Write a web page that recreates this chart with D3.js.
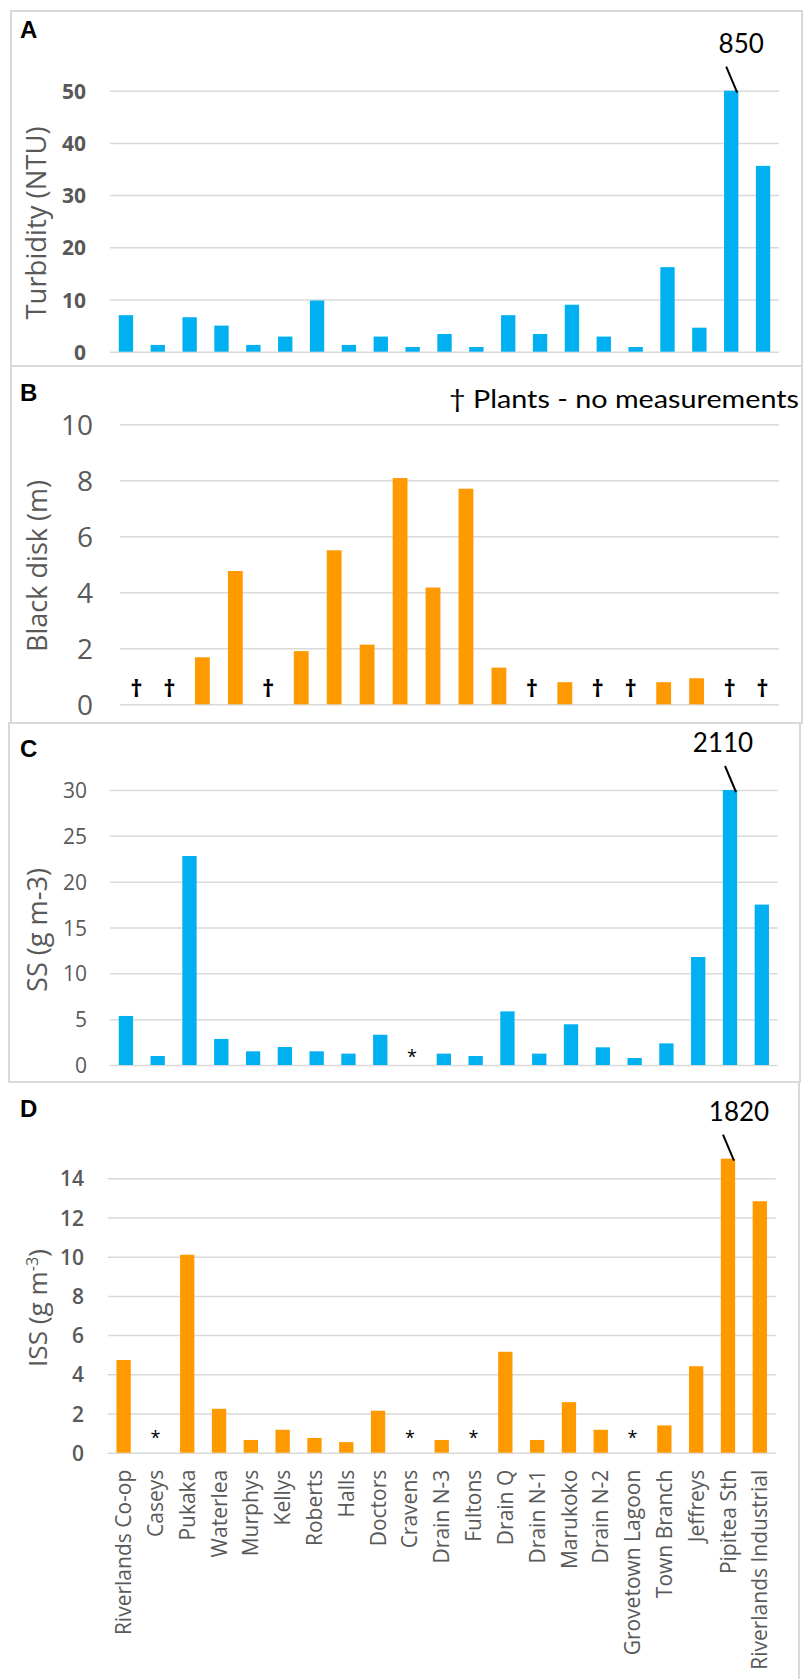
<!DOCTYPE html>
<head>
  <meta charset="utf-8">
  <script src="https://d3js.org/d3.v7.min.js"></script>
  <style>
    body { margin:0; background:#fff; }
    text { font-family: "Open Sans", sans-serif; }
    .frame { fill:none; stroke:#d9d9d9; stroke-width:2; }
    .grid line { stroke:#d9d9d9; stroke-width:1.5; }
    .grid path, .ticks path { display:none; }
    .ticks text { fill:#595959; }
  </style>
</head>

<body>
  <script>
  // ---------- data ---------------
    var sites = ["Riverlands Co-op", "Caseys", "Pukaka", "Waterlea", "Murphys", "Kellys",
      "Roberts", "Halls", "Doctors", "Cravens", "Drain N-3", "Fultons", "Drain Q",
      "Drain N-1", "Marukoko", "Drain N-2", "Grovetown Lagoon", "Town Branch",
      "Jeffreys", "Pipitea Sth", "Riverlands Industrial"];

    var turbidity = [7.0, 1.3, 6.6, 5.0, 1.3, 2.9, 9.8, 1.3, 2.9, 0.9, 3.4, 0.9, 7.0,
      3.4, 9.0, 2.9, 0.9, 16.2, 4.6, 850, 35.6];
    // panel B has 20 positions, null = plants (no measurement)
    var blackDisk = [null, null, 1.68, 4.76, null, 1.9, 5.5, 2.13, 8.08, 4.17, 7.7, 1.31,
      null, 0.79, null, null, 0.79, 0.93, null, null];
    // null = * (no value)
    var ss = [5.35, 0.98, 22.8, 2.84, 1.49, 1.96, 1.49, 1.24, 3.3, null, 1.24, 0.98, 5.85,
      1.24, 4.44, 1.93, 0.76, 2.36, 11.78, 2110, 17.5];
    var iss = [4.73, null, 10.1, 2.24, 0.65, 1.17, 0.75, 0.54, 2.14, null, 0.65, null, 5.15,
      0.65, 2.58, 1.17, null, 1.39, 4.41, 1820, 12.83];

    var turbidityTicks = [0, 10, 20, 30, 40, 50];
    var blackDiskTicks = [0, 2, 4, 6, 8, 10];
    var ssTicks = [0, 5, 10, 15, 20, 25, 30];
    var issTicks = [0, 2, 4, 6, 8, 10, 12, 14];

    var blue = "#00b0f0", orange = "#ff9900";

  // ---------- svg ---------------
    var svg = d3.select("body").append("svg")
      .attr("width", 803)
      .attr("height", 1679);

    var panels = [
      { letter: "A", letterY: 38, box: [11, 11, 802, 366], xr: [110, 779], yr: [351.7, 90.7],
        domain: [0, 50], ticks: turbidityTicks, values: turbidity, color: blue,
        tickSize: 21, tickWeight: "bold", tickX: 86, title: "Turbidity (NTU)",
        titleX: 46, titleY: 223, titleLen: 193, noteDx: 10 },
      { letter: "B", letterY: 401, box: [11, 366, 802, 723], xr: [120, 779], yr: [704.3, 424.3],
        domain: [0, 10], ticks: blackDiskTicks, values: blackDisk, color: orange,
        tickSize: 28, tickWeight: "normal", tickX: 93, title: "Black disk (m)",
        titleX: 47, titleY: 566, titleLen: 172 },
      { letter: "C", letterY: 757, box: [9, 723, 800, 1082], xr: [110, 777.7], yr: [1065, 790],
        domain: [0, 30], ticks: ssTicks, values: ss, color: blue,
        tickSize: 21, tickWeight: "normal", tickX: 87, title: "SS (g m-3)",
        titleX: 47, titleY: 930, titleLen: 124, noteDx: -7 },
      { letter: "D", letterY: 1117, box: null, xr: [107.7, 775.7], yr: [1452.7, 1158.7],
        domain: [0, 15], ticks: issTicks, values: iss, color: orange,
        tickSize: 21, tickWeight: 600, tickX: 84, title: "ISS (g m",
        titleX: 47, titleY: 1308, titleLen: 118, noteDx: 11, xLabels: true }
    ];

    panels.forEach(drawPanel);

    // right border only for panel D
    svg.append("line")
      .attr("x1", 799).attr("x2", 799)
      .attr("y1", 1082).attr("y2", 1679)
      .attr("stroke", "#d9d9d9").attr("stroke-width", 2);

    // legend for panel B
    svg.append("text")
      .attr("x", 449).attr("y", 408)
      .attr("textLength", 350)
      .attr("lengthAdjust", "spacingAndGlyphs")
      .style("font-family", "Lato, sans-serif")
      .style("font-size", "25px")
      .attr("fill", "#000")
      .text("\u2020 Plants - no measurements");

  // ------------ one panel -------------
    function drawPanel(p) {
      var g = svg.append("g");

      if (p.box) {
        g.append("rect").attr("class", "frame")
          .attr("x", p.box[0]).attr("y", p.box[1])
          .attr("width", p.box[2] - p.box[0])
          .attr("height", p.box[3] - p.box[1]);
      }

      var x = d3.scaleBand()
        .domain(d3.range(p.values.length))
        .range(p.xr)
        .paddingInner(0.55)
        .paddingOuter(0.275);

      var y = d3.scaleLinear()
        .domain(p.domain)
        .range(p.yr)
        .clamp(true);

      g.append("g").attr("class", "grid")
        .attr("transform", "translate(" + p.xr[0] + ",0)")
        .call(d3.axisLeft(y).tickValues(p.ticks)
          .tickSize(-(p.xr[1] - p.xr[0])).tickFormat(""));

      var ticks = g.append("g").attr("class", "ticks")
        .attr("transform", "translate(" + p.tickX + ",0)")
        .call(d3.axisLeft(y).tickValues(p.ticks).tickSize(0).tickPadding(0));
      ticks.selectAll("text")
        .style("font-size", p.tickSize + "px")
        .style("font-weight", p.tickWeight)
        .style("font-family", "'Open Sans', sans-serif")
        .attr("dy", "0.36em");
      ticks.selectAll("line").remove();

      // bars
      g.selectAll("rect.bar")
        .data(p.values.map(function(v, i) { return { v: v, i: i }; })
          .filter(function(d) { return d.v != null; }))
        .enter().append("rect")
        .attr("class", "bar")
        .attr("x", function(d) { return x(d.i); })
        .attr("width", x.bandwidth())
        .attr("y", function(d) { return y(d.v); })
        .attr("height", function(d) { return y(0) - y(d.v); })
        .attr("fill", p.color);

      // missing markers
      var missing = p.values.map(function(v, i) { return { v: v, i: i }; })
        .filter(function(d) { return d.v == null; });
      if (p.letter === "B") {
        g.selectAll("text.mark").data(missing).enter().append("text")
          .attr("class", "mark")
          .attr("x", function(d) { return x(d.i) + x.bandwidth() / 2; })
          .attr("y", y(0) - 7)
          .attr("text-anchor", "middle")
          .style("font-size", "24px").style("font-weight", "bold")
          .text("\u2020");
      } else {
        g.selectAll("text.mark").data(missing).enter().append("text")
          .attr("class", "mark")
          .attr("x", function(d) { return x(d.i) + x.bandwidth() / 2; })
          .attr("y", y(0) - (p.letter === "D" ? 9 : 2))
          .attr("text-anchor", "middle")
          .style("font-size", "18px")
          .text("*");
      }

      // values off the scale
      p.values.forEach(function(v, i) {
        if (v != null && v > p.domain[1]) {
          var cx = x(i) + x.bandwidth() / 2, top = y(v);
          g.append("line")
            .attr("x1", cx - 5).attr("y1", top - 24)
            .attr("x2", cx + 6).attr("y2", top + 2)
            .attr("stroke", "#000").attr("stroke-width", 2);
          g.append("text")
            .attr("x", cx + p.noteDx).attr("y", top - 38)
            .attr("text-anchor", "middle")
            .style("font-family", "Lato, sans-serif")
            .style("font-size", "26px")
            .text(v);
        }
      });

      // panel letter
      g.append("text")
        .attr("x", 20).attr("y", p.letterY)
        .style("font-family", "'Liberation Sans', Arial, sans-serif")
        .style("font-size", "24px").style("font-weight", "bold")
        .text(p.letter);

      // axis title, sized to the reference length
      var t = g.append("text")
        .attr("transform", "translate(" + p.titleX + "," + p.titleY + ") rotate(-90)")
        .attr("text-anchor", "middle")
        .attr("fill", "#595959")
        .style("font-size", "22px")
        .text(p.title);
      if (p.letter === "D") {
        t.append("tspan").attr("dy", -9).style("font-size", "0.62em").text("-3");
        t.append("tspan").attr("dy", 9).text(")");
      }
      var natural = t.node().getComputedTextLength();
      t.style("font-size", (22 * p.titleLen / natural) + "px");

      // category labels
      if (p.xLabels) {
        var xa = g.append("g").attr("class", "ticks")
          .attr("transform", "translate(0," + y(0) + ")")
          .call(d3.axisBottom(x).tickSize(0).tickFormat(function(i) { return sites[i]; }));
        xa.select("path").remove();
        xa.selectAll("text")
          .attr("y", 0).attr("x", -17).attr("dy", "0.36em")
          .attr("transform", "rotate(-90)")
          .style("text-anchor", "end")
          .style("font-size", "21px")
          .style("font-family", "'Open Sans', sans-serif");
      }
    }
  </script>
</body>
